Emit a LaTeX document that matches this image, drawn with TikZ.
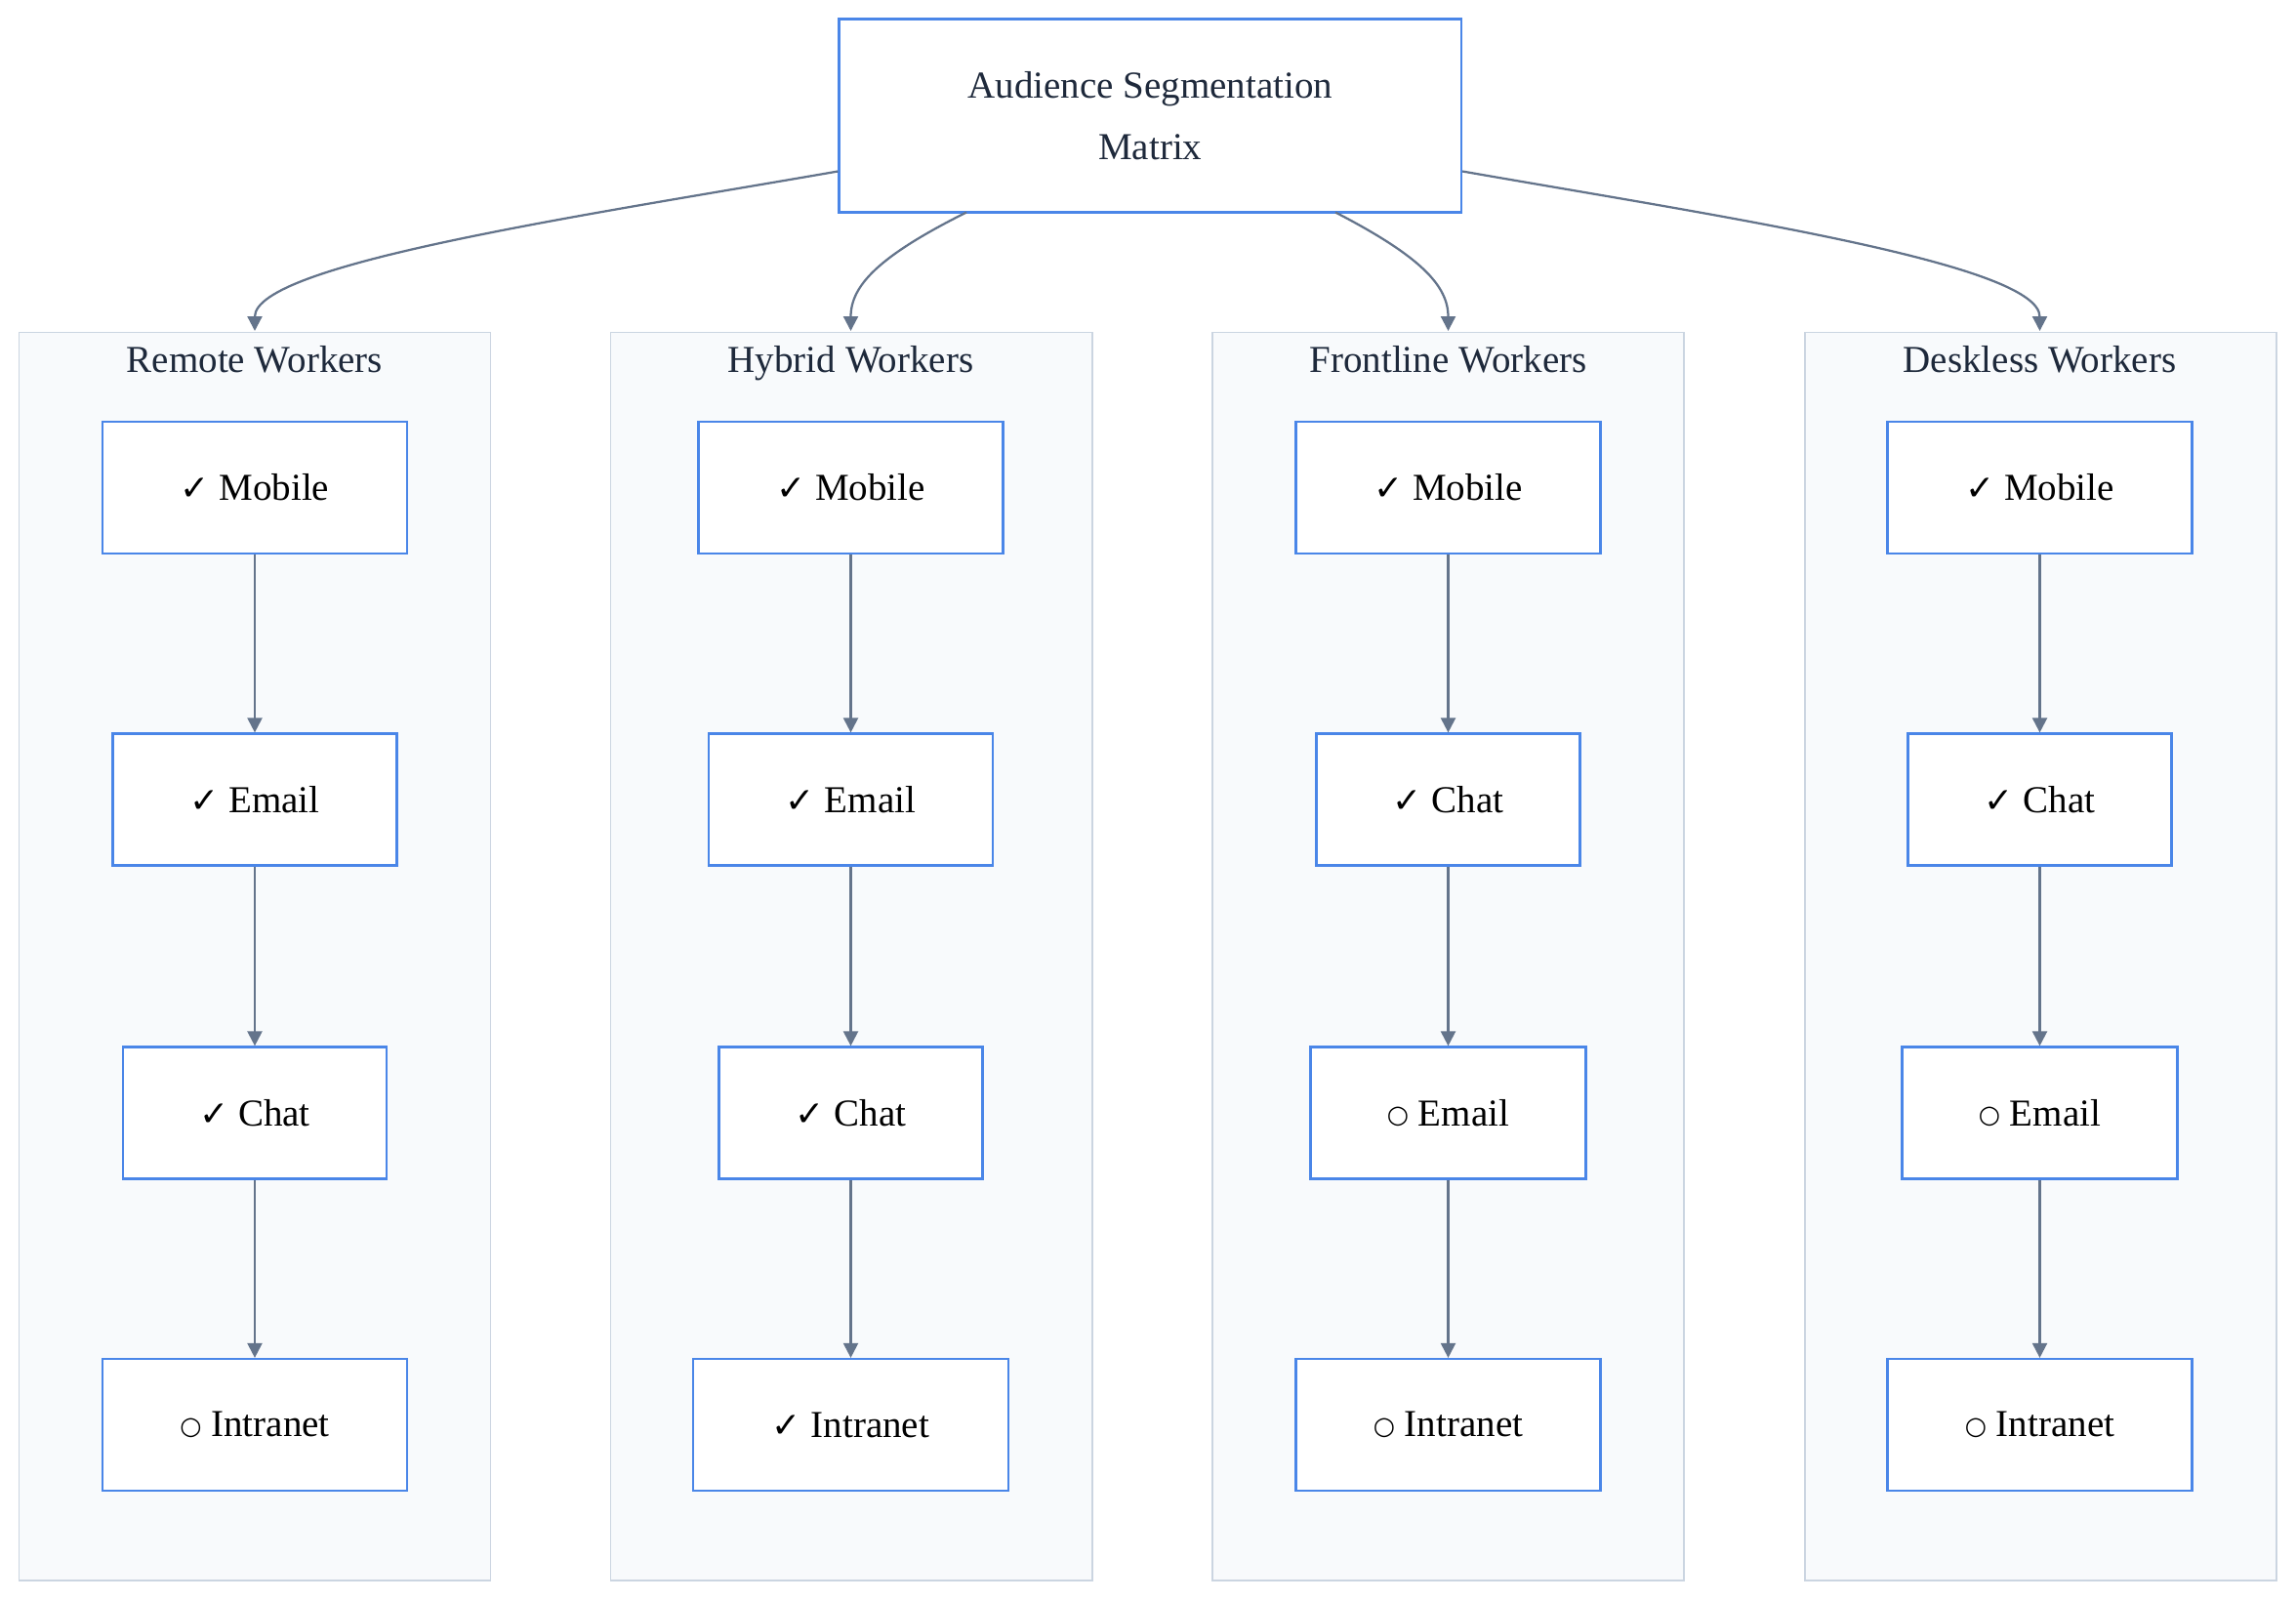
\documentclass[tikz,border=0pt]{standalone}
\usepackage{fontspec}
\setmainfont{Liberation Serif}
\newfontfamily\symf{DejaVu Sans}
\usetikzlibrary{arrows.meta}
\definecolor{bx}{HTML}{4A86E8}
\definecolor{cl}{HTML}{CBD5E1}
\definecolor{clf}{HTML}{F8FAFC}
\definecolor{ar}{HTML}{64748B}
\definecolor{tx}{HTML}{1E293B}
\newcommand{\ck}{{\symf\fontsize{24}{28}\selectfont ✓}\ }
\newcommand{\ci}{\raisebox{1.5pt}{\symf\fontsize{17}{24}\selectfont ○}\ }
\begin{document}
\begin{tikzpicture}[x=1pt,y=-1pt,
  box/.style={draw=bx,line width=1.5pt,fill=white,minimum height=90pt,inner sep=0pt,text=black,font=\fontsize{26}{30}\selectfont},
  clu/.style={draw=cl,line width=1.3pt,fill=clf,minimum height=852pt,minimum width=322pt,inner sep=0pt},
  ttl/.style={text=tx,font=\fontsize{26}{30}\selectfont,text height=18pt,text depth=6pt},
  arr/.style={draw=ar,line width=1.5pt,-{Triangle[length=10pt,width=10pt]}}]
\useasboundingbox (0,0) rectangle (1568,1093);
\fill[white] (0,0) rectangle (1568,1093);
\node[box,minimum width=425pt,minimum height=132pt,align=center,text=tx] (top) at (785.5,79) {Audience Segmentation\\[12pt]Matrix};
% clusters
\node[clu] (c1) at (174,653) {};
\node[clu,minimum width=329pt] (c2) at (581.5,653) {};
\node[clu] (c3) at (989,653) {};
\node[clu] (c4) at (1393.5,653) {};
\node[ttl] at (174,248) {Remote Workers};
\node[ttl] at (581,248) {Hybrid Workers};
\node[ttl] at (989,248) {Frontline Workers};
\node[ttl] at (1393,248) {Deskless Workers};
% column 1
\node[box,minimum width=208pt] (a1) at (174,333) {\ck Mobile};
\node[box,minimum width=194pt] (a2) at (174,546) {\ck Email};
\node[box,minimum width=180pt] (a3) at (174,760) {\ck Chat};
\node[box,minimum width=208pt] (a4) at (174,973) {\ci Intranet};
% column 2
\node[box,minimum width=208pt] (b1) at (581,333) {\ck Mobile};
\node[box,minimum width=194pt] (b2) at (581,546) {\ck Email};
\node[box,minimum width=180pt] (b3) at (581,760) {\ck Chat};
\node[box,minimum width=215pt] (b4) at (581,973) {\ck Intranet};
% column 3
\node[box,minimum width=208pt] (d1) at (989,333) {\ck Mobile};
\node[box,minimum width=180pt] (d2) at (989,546) {\ck Chat};
\node[box,minimum width=188pt] (d3) at (989,760) {\ci Email};
\node[box,minimum width=208pt] (d4) at (989,973) {\ci Intranet};
% column 4
\node[box,minimum width=208pt] (e1) at (1393,333) {\ck Mobile};
\node[box,minimum width=180pt] (e2) at (1393,546) {\ck Chat};
\node[box,minimum width=188pt] (e3) at (1393,760) {\ci Email};
\node[box,minimum width=208pt] (e4) at (1393,973) {\ci Intranet};
\foreach \p in {a,b,d,e}{
  \draw[arr] (\p1) -- (\p2);
  \draw[arr] (\p2) -- (\p3);
  \draw[arr] (\p3) -- (\p4);
}
\coordinate (t1) at (174,226);
\coordinate (t2) at (581,226);
\coordinate (t3) at (989,226);
\coordinate (t4) at (1393,226);
\draw[arr] (top.west |- 0,117) .. controls (400,147) and (174,180) .. (t1);
\draw[arr] (660,145) .. controls (600,175) and (581,195) .. (t2);
\draw[arr] (912,145) .. controls (970,175) and (989,195) .. (t3);
\draw[arr] (top.east |- 0,117) .. controls (1170,147) and (1393,180) .. (t4);
\end{tikzpicture}
\end{document}
